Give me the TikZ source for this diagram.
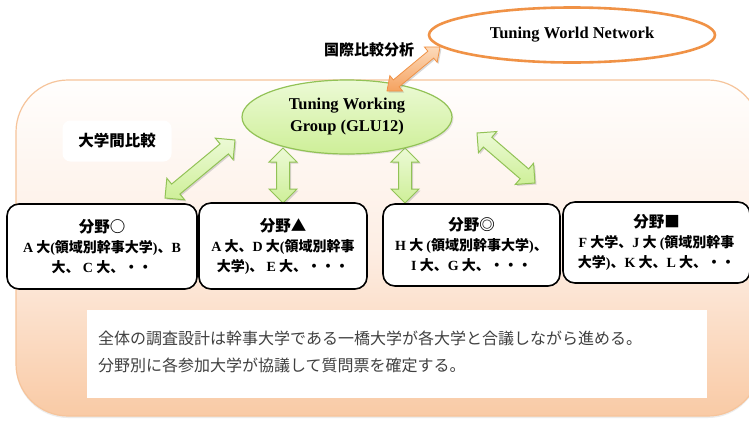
\documentclass[tikz,border=0pt]{standalone}
\usepackage{fontspec}
\setmainfont{Liberation Serif}
\newfontfamily\jpfont{Noto Sans CJK JP}
\usetikzlibrary{calc,shadows,shapes.geometric}
\definecolor{bgtop}{RGB}{255,254,253}
\definecolor{bgmid}{RGB}{253,238,228}
\definecolor{bgbot}{RGB}{249,202,165}
\definecolor{bgline}{RGB}{246,196,155}
\definecolor{grtop}{RGB}{236,250,214}
\definecolor{grbot}{RGB}{206,239,152}
\definecolor{grline}{RGB}{146,194,86}
\definecolor{ortop}{RGB}{252,218,186}
\definecolor{orbot}{RGB}{245,162,96}
\definecolor{orline}{RGB}{240,146,70}
\definecolor{txtgray}{RGB}{64,64,64}
\newcommand\latn[1]{{\rmfamily\bfseries #1}}
% #1 style, #2 tip A, #3 tip B, #4/#5 head corner distance/angle, #6/#7 shaft corner distance/angle
\newcommand\blockarr[7]{%
  \path[#1] (#2) -- ($(#2)!#4pt!#5:(#3)$) -- ($(#2)!#6pt!#7:(#3)$)
    -- ($(#3)!#6pt!-#7:(#2)$) -- ($(#3)!#4pt!-#5:(#2)$) -- (#3)
    -- ($(#3)!#4pt!#5:(#2)$) -- ($(#3)!#6pt!#7:(#2)$)
    -- ($(#2)!#6pt!-#7:(#3)$) -- ($(#2)!#4pt!-#5:(#3)$) -- cycle;}
\begin{document}
\begin{tikzpicture}[x=1pt,y=-1pt,
  bgpanel/.style={draw=bgline, line width=1.2pt, rounded corners=52pt,
    top color=bgtop, bottom color=bgbot, middle color=bgmid,
    drop shadow={opacity=0.15, shadow xshift=0pt, shadow yshift=-2pt}},
  uni/.style={draw=black, line width=1.6pt, rounded corners=12pt, fill=white,
    font=\jpfont\bfseries\fontsize{14}{20}\selectfont, align=center, inner sep=0pt},
  boxlabel/.style={fill=white, rounded corners=8pt, inner sep=0pt,
    minimum width=109pt, minimum height=41pt,
    font=\jpfont\bfseries\fontsize{15.5}{18}\selectfont},
  plainlabel/.style={font=\jpfont\bfseries\fontsize{15}{18}\selectfont, inner sep=0pt},
  glu/.style={ellipse, draw=grline, line width=1.2pt, top color=grtop, bottom color=grbot,
    minimum width=210pt, minimum height=74pt, inner sep=0pt, align=center,
    font=\rmfamily\bfseries\fontsize{16.5}{22}\selectfont,
    drop shadow={opacity=0.2, shadow xshift=1.5pt, shadow yshift=-1.5pt}},
  twn/.style={ellipse, draw=orline, line width=2.6pt, fill=white,
    minimum width=286pt, minimum height=55pt, inner sep=0pt,
    font=\rmfamily\bfseries\fontsize{16.5}{20}\selectfont},
  garrow/.style={draw=grline, line width=1pt, top color=grtop, bottom color=grbot,
    drop shadow={opacity=0.3, shadow xshift=1.5pt, shadow yshift=-1.5pt}},
  oarrow/.style={draw=orline, line width=0.8pt, top color=ortop, bottom color=orbot,
    drop shadow={opacity=0.3, shadow xshift=1.5pt, shadow yshift=-1.5pt}},
  notebox/.style={fill=white, inner sep=0pt, minimum width=620pt, minimum height=88pt},
  notetext/.style={font=\jpfont\fontsize{16}{27}\selectfont, text=txtgray, align=left, inner sep=0pt}
]
\useasboundingbox (0,0) rectangle (749,421);
\clip (0,0) rectangle (749,421);
\fill[white] (0,0) rectangle (749,421);

% background panel
\path[bgpanel] (16,80) rectangle (760,416);

% labels
\node[boxlabel] (lab1) at (117,141) {大学間比較};
\node[plainlabel] (lab2) at (369,50) {国際比較分析};

% arrow end points
\coordinate (g1a) at (165,198); \coordinate (g1b) at (235,140);
\coordinate (g2a) at (283,148); \coordinate (g2b) at (283,203);
\coordinate (g3a) at (405,148); \coordinate (g3b) at (405,203);
\coordinate (g4a) at (477,133); \coordinate (g4b) at (535,183);
\coordinate (o1) at (387,91);  \coordinate (o2) at (440,47);

\blockarr{garrow}{g1a}{g1b}{19.8}{45}{15.43}{24.9}
\blockarr{garrow}{g2a}{g2b}{19.8}{45}{15.43}{24.9}
\blockarr{garrow}{g3a}{g3b}{19.8}{45}{15.43}{24.9}
\blockarr{garrow}{g4a}{g4b}{19.8}{45}{15.43}{24.9}

% ellipses
\node[glu] (gw) at (347,117) {Tuning Working\\Group (GLU12)};
\node[twn] (tn) at (572,35) {Tuning World Network};

\blockarr{oarrow}{o1}{o2}{15.62}{39.8}{12.82}{20.56}

% university boxes
\node[uni, minimum width=190pt, minimum height=85pt] (b1) at (102,246.5)
  {{\fontsize{15.5}{20}\selectfont 分野○}\\
   \latn{A} 大\latn{(}領域別幹事大学\latn{)}、\latn{B}\\
   大、 \latn{C} 大、・・};
\node[uni, minimum width=168pt, minimum height=86pt] (b2) at (283,246)
  {{\fontsize{15.5}{20}\selectfont 分野▲}\\
   \latn{A} 大、\latn{D} 大\latn{(}領域別幹事\\
   大学\latn{)}、 \latn{E} 大、・・・};
\node[uni, minimum width=177pt, minimum height=82pt] (b3) at (471.5,245)
  {{\fontsize{15.5}{20}\selectfont 分野◎}\\
   \latn{H} 大 \latn{(}領域別幹事大学\latn{)}、\\
   \latn{I} 大、\latn{G} 大、・・・};
\node[uni, minimum width=187pt, minimum height=81pt] (b4) at (656.5,242.5)
  {{\fontsize{15.5}{20}\selectfont 分野■}\\
   \latn{F} 大学、\latn{J} 大 \latn{(}領域別幹事\\
   大学\latn{)}、\latn{K} 大、\latn{L} 大、・・};

% note
\node[notebox] (nb) at (397,354) {};
\node[notetext, anchor=west] (nt) at (98,352)
  {全体の調査設計は幹事大学である一橋大学が各大学と合議しながら進める。\\
   分野別に各参加大学が協議して質問票を確定する。};
\end{tikzpicture}
\end{document}
